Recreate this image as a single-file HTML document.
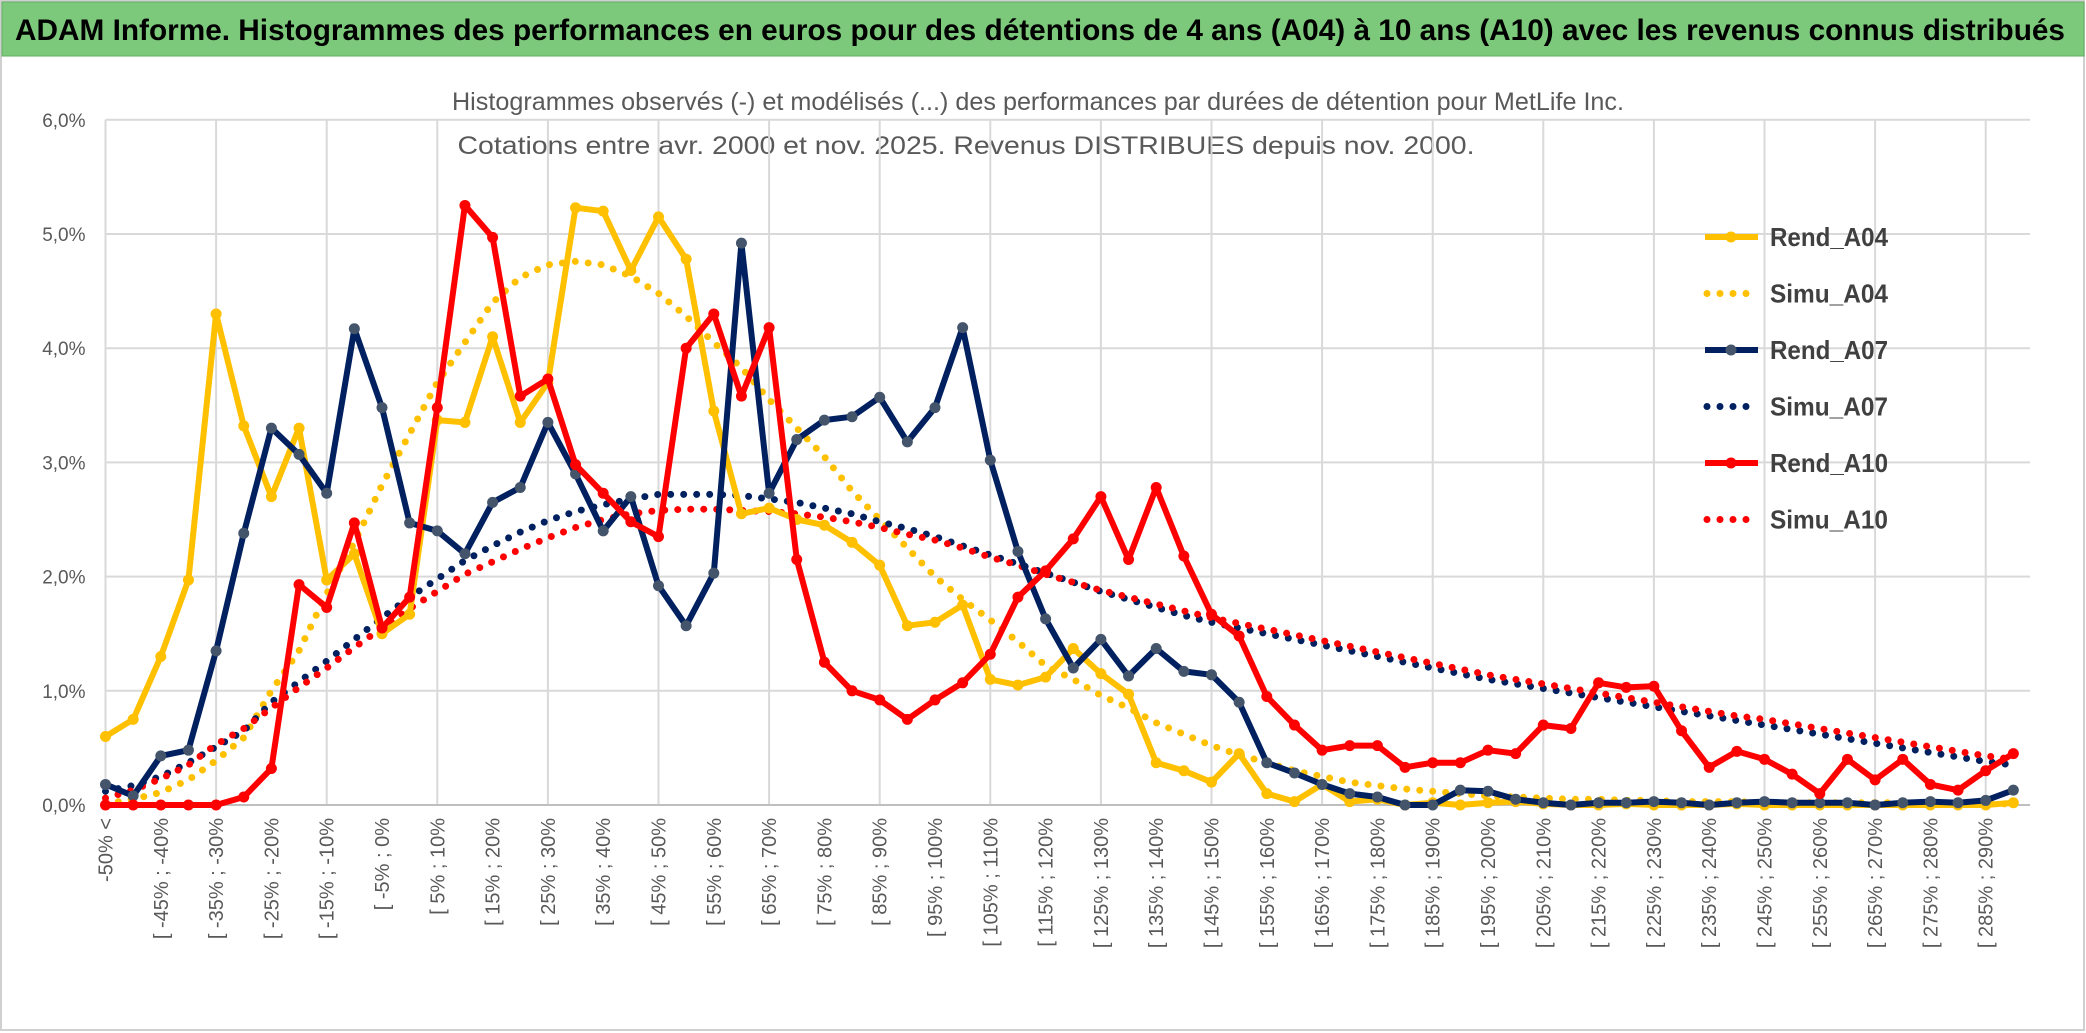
<!DOCTYPE html>
<html><head><meta charset="utf-8"><style>
html,body{margin:0;padding:0;background:#fff;}
svg{display:block;font-family:"Liberation Sans Narrow","Liberation Sans",sans-serif;}
</style></head><body>
<svg id="chart" width="2086" height="1033" viewBox="0 0 2086 1033" xmlns="http://www.w3.org/2000/svg">
<rect x="1" y="1" width="2083" height="1029" fill="#fff" stroke="#d0d0d0" stroke-width="2"/>
<rect x="2" y="2" width="2082" height="54" fill="#7dc97b" stroke="#5fae5f" stroke-width="1"/>
<text x="1040" y="40" text-anchor="middle" font-size="30" font-weight="bold" fill="#000" textLength="2050" lengthAdjust="spacingAndGlyphs">ADAM Informe. Histogrammes des performances en euros pour des détentions de 4 ans (A04) à 10 ans (A10) avec les revenus connus distribués</text>
<text x="1038" y="110" text-anchor="middle" font-size="25" fill="#595959" textLength="1172" lengthAdjust="spacingAndGlyphs">Histogrammes observés (-) et modélisés (...) des performances par durées de détention pour MetLife Inc.</text>
<text x="966" y="154" text-anchor="middle" font-size="25" fill="#595959" textLength="1017" lengthAdjust="spacingAndGlyphs">Cotations entre avr. 2000 et nov. 2025. Revenus DISTRIBUES depuis nov. 2000.</text>
<g id="grid"></g><g id="axes"></g><g id="series"></g><g id="legend"></g>
</svg>
<script>
const categories = [];
const rendA04 = [0.6,0.75,1.3,1.97,4.3,3.32,2.7,3.3,1.97,2.2,1.5,1.67,3.37,3.35,4.1,3.35,3.7,5.23,5.2,4.68,5.15,4.78,3.45,2.55,2.6,2.5,2.45,2.3,2.1,1.57,1.6,1.75,1.1,1.05,1.12,1.37,1.15,0.97,0.37,0.3,0.2,0.45,0.1,0.03,0.18,0.03,0.05,0.0,0.02,0.0,0.02,0.03,0.01,0.0,0.0,0.01,0.0,0.0,0.0,0.01,0.0,0.0,0.0,0.0,0.0,0.0,0.0,0.0,0.0,0.02];
const rendA07 = [0.18,0.08,0.43,0.48,1.35,2.38,3.3,3.07,2.73,4.17,3.48,2.47,2.4,2.2,2.65,2.78,3.35,2.9,2.4,2.7,1.92,1.57,2.03,4.92,2.73,3.2,3.37,3.4,3.57,3.18,3.48,4.18,3.02,2.22,1.63,1.2,1.45,1.13,1.37,1.17,1.14,0.9,0.37,0.28,0.18,0.1,0.07,0.0,0.0,0.13,0.12,0.05,0.02,0.0,0.02,0.02,0.03,0.02,0.0,0.02,0.03,0.02,0.02,0.02,0.0,0.02,0.03,0.02,0.04,0.13];
const rendA10 = [0,0,0,0,0,0.07,0.32,1.93,1.73,2.47,1.55,1.82,3.48,5.25,4.97,3.58,3.73,2.98,2.73,2.48,2.35,4.0,4.3,3.58,4.18,2.15,1.25,1.0,0.92,0.75,0.92,1.07,1.32,1.82,2.05,2.33,2.7,2.15,2.78,2.18,1.67,1.48,0.95,0.7,0.48,0.52,0.52,0.33,0.37,0.37,0.48,0.45,0.7,0.67,1.07,1.03,1.04,0.65,0.33,0.47,0.4,0.27,0.1,0.4,0.22,0.4,0.18,0.13,0.3,0.45];
const simuA04 = [0.01,0.05,0.11,0.22,0.39,0.59,1.0,1.35,1.85,2.3,2.8,3.25,3.7,4.05,4.4,4.62,4.73,4.76,4.73,4.63,4.48,4.28,4.05,3.83,3.55,3.3,3.05,2.75,2.5,2.25,2.0,1.8,1.62,1.43,1.22,1.1,0.96,0.85,0.72,0.62,0.52,0.44,0.37,0.3,0.25,0.2,0.17,0.14,0.12,0.1,0.08,0.07,0.06,0.05,0.05,0.04,0.04,0.03,0.03,0.03,0.02,0.02,0.02,0.02,0.02,0.02,0.01,0.01,0.01,0.01];
const simuA07 = [0.12,0.17,0.25,0.37,0.51,0.65,0.9,1.08,1.26,1.45,1.64,1.82,1.98,2.14,2.27,2.39,2.49,2.57,2.63,2.68,2.72,2.72,2.72,2.71,2.68,2.65,2.6,2.55,2.48,2.42,2.35,2.27,2.19,2.11,2.03,1.95,1.87,1.8,1.73,1.66,1.6,1.55,1.5,1.45,1.4,1.35,1.3,1.25,1.2,1.15,1.1,1.06,1.02,0.98,0.94,0.9,0.86,0.82,0.78,0.74,0.7,0.66,0.62,0.58,0.54,0.5,0.46,0.42,0.38,0.35];
const simuA10 = [0.06,0.13,0.23,0.35,0.53,0.67,0.85,1.03,1.2,1.38,1.55,1.72,1.87,2.02,2.13,2.24,2.34,2.43,2.5,2.55,2.58,2.59,2.59,2.58,2.57,2.55,2.52,2.48,2.43,2.37,2.32,2.25,2.17,2.1,2.02,1.95,1.88,1.82,1.76,1.7,1.64,1.59,1.54,1.49,1.44,1.39,1.34,1.29,1.24,1.19,1.14,1.1,1.06,1.02,0.98,0.94,0.9,0.86,0.82,0.78,0.75,0.71,0.67,0.63,0.59,0.55,0.51,0.47,0.43,0.4];
const yTicks = [0,1,2,3,4,5,6];
const yTickLabels = ["0,0%","1,0%","2,0%","3,0%","4,0%","5,0%","6,0%"];

categories.push("-50% <");
for (let i = 1; i < 70; i++) { const a = -50 + 5*(i-1); categories.push("[ " + a + "% ; " + (a+5) + "%"); }

const NS = "http://www.w3.org/2000/svg";
const X0 = 105.5, STEP = 27.65, Y0 = 805, YS = 114.2, XR = 2030;
const xPos = i => X0 + i*STEP;
const yPos = v => Y0 - v*YS;
function mk(tag, attrs, parent){ const e=document.createElementNS(NS,tag); for(const k in attrs) e.setAttribute(k,attrs[k]); parent.appendChild(e); return e; }

const grid = document.getElementById('grid'), axes = document.getElementById('axes'), ser = document.getElementById('series'), leg = document.getElementById('legend');
yTicks.forEach((t,k)=>{
  const l = mk('line',{x1:X0,x2:XR,y1:yPos(t),y2:yPos(t),stroke:'#d9d9d9','stroke-width':2},grid);
  
  
  const tx = mk('text',{x:X0-20,y:yPos(t)+7,'text-anchor':'end','font-size':19,fill:'#595959'},axes);
  tx.textContent = yTickLabels[k];
  
  
});
for (let i = 0; i < categories.length; i += 4) {
  const l = mk('line',{x1:xPos(i),x2:xPos(i),y1:yPos(6),y2:Y0,stroke:'#d9d9d9','stroke-width':2},grid);
  
  
}
const ax = mk('line',{x1:X0,x2:XR,y1:Y0,y2:Y0,stroke:'#bfbfbf','stroke-width':2},axes);


categories.forEach((c,i)=>{
  if (i % 2) return;
  const x = xPos(i)+7, y = 818;
  const tx = mk('text',{x:x,y:y,'text-anchor':'end','font-size':20,fill:'#595959',transform:`rotate(-90 ${x} ${y})`},axes);
  tx.textContent = c;
  
  
});

function solid(data, color, mcolor, name){
  const pts = data.map((v,i)=>xPos(i).toFixed(1)+','+yPos(v).toFixed(1)).join(' ');
  const pl = mk('polyline',{points:pts,fill:'none',stroke:color,'stroke-width':6,'stroke-linejoin':'round'},ser);
  
  
  data.forEach((v,i)=>{
    const c = mk('circle',{cx:xPos(i),cy:yPos(v),r:5.5,fill:mcolor},ser);
    
    
  });
}
function dotted(data, color, name){
  let d = '';
  data.forEach((v,i)=>{ d += (i? ' L':'M')+xPos(i).toFixed(1)+' '+yPos(v).toFixed(1); });
  const p = mk('path',{d:d,fill:'none',stroke:color,'stroke-width':7,'stroke-dasharray':'0 13','stroke-linecap':'round'},ser);
  
  
}
dotted(simuA04,'#ffc000','simu-a04');
dotted(simuA07,'#002060','simu-a07');
dotted(simuA10,'#ff0000','simu-a10');
solid(rendA04,'#ffc000','#ffc000','rend-a04');
solid(rendA07,'#002060','#44546a','rend-a07');
solid(rendA10,'#ff0000','#ff0000','rend-a10');

const legendItems = [["Rend_A04","#ffc000","#ffc000",true],["Simu_A04","#ffc000","",false],["Rend_A07","#002060","#44546a",true],["Simu_A07","#002060","",false],["Rend_A10","#ff0000","#ff0000",true],["Simu_A10","#ff0000","",false]];
legendItems.forEach((it,k)=>{
  const y = 237 + k*56.5;
  const g = mk('g',{},leg);
  
  
  if (it[3]) {
    mk('line',{x1:1705,x2:1758,y1:y,y2:y,stroke:it[1],'stroke-width':6},g);
    mk('circle',{cx:1731,cy:y,r:5.5,fill:it[2]},g);
  } else {
    mk('line',{x1:1707,x2:1758,y1:y,y2:y,stroke:it[1],'stroke-width':7,'stroke-dasharray':'0 13','stroke-linecap':'round'},g);
  }
  const t = mk('text',{x:1770,y:y+9,'font-size':26,fill:'#404040','font-weight':'bold',textLength:'118',lengthAdjust:'spacingAndGlyphs'},g);
  t.textContent = it[0];
});
</script>
</body></html>
